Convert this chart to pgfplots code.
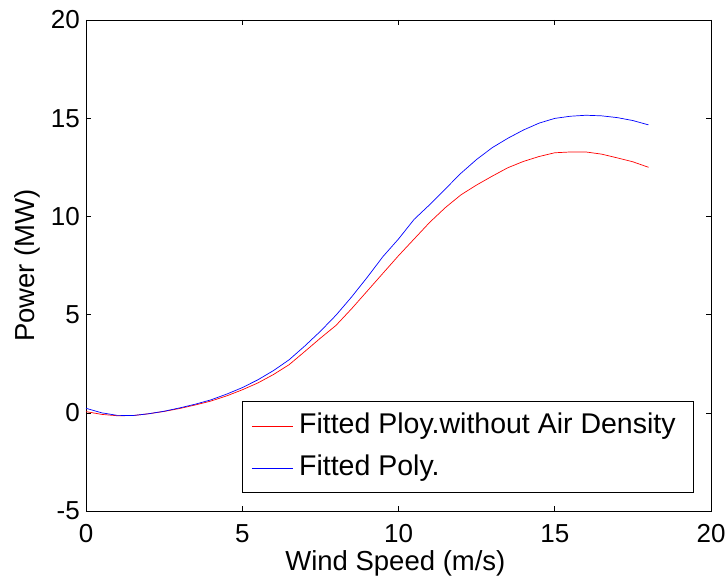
\documentclass[border=0pt]{standalone}
\usepackage{pgfplots}
\pgfplotsset{compat=1.18}
\usepackage{fontspec}
\setmainfont{Liberation Sans}
\begin{document}
\begin{tikzpicture}[x=1pt,y=1pt]
\useasboundingbox (-86,-67) rectangle (641,511);
\begin{axis}[
  at={(0,0)}, anchor=south west,
  scale only axis, width=625pt, height=491pt,
  xmin=0, xmax=20, ymin=-5, ymax=20,
  xtick={0,5,10,15,20}, ytick={-5,0,5,10,15,20},
  tick align=inside, tickpos=both,
  major tick length=5pt,
  tick style={black, line width=0.6pt},
  axis line style={black, line width=0.8pt},
  ticklabel style={font=\fontsize{26}{30}\selectfont},
  /pgf/number format/assume math mode=true,
  xticklabel style={anchor=base, inner sep=0pt, yshift=-31.3pt},
  yticklabel style={anchor=east, inner sep=0pt, xshift=-6pt},
  xlabel={Wind Speed (m/s)}, ylabel={Power (MW)},
  label style={font=\fontsize{27.5}{32}\selectfont},
  xlabel style={at={(axis description cs:0.495,-0.1216)}, anchor=base, inner sep=0pt},
  ylabel style={at={(axis description cs:-0.0816,0.5)}, anchor=base, inner sep=0pt},
  legend style={at={(rel axis cs:1,0)}, anchor=south east, xshift=-17pt, yshift=18pt,
    draw=black, line width=0.8pt, font=\fontsize{28.5}{32}\selectfont,
    inner xsep=9pt, inner ysep=11.5pt, row sep=16pt, column sep=6pt,
    nodes={inner sep=0pt, text height=20pt, text depth=6pt}},
  legend cell align=left,
  legend image code/.code={\draw[#1, line width=0.6pt] (0pt,0pt) -- (41pt,0pt);},
  clip=false,
]
\addplot[red, line width=0.7pt] coordinates {
(0,0.06) (0.5,-0.08) (1,-0.15) (1.5,-0.14) (2,-0.05) (2.5,0.07) (3,0.22) (3.5,0.40)
(4,0.60) (4.5,0.86) (5,1.17) (5.5,1.52) (6,1.95) (6.5,2.45) (7,3.12) (7.5,3.80)
(8,4.45) (8.5,5.30) (9,6.20) (9.5,7.10) (10,8.00) (10.5,8.85) (11,9.70) (11.5,10.45)
(12,11.10) (12.5,11.60) (13,12.05) (13.5,12.48) (14,12.80) (14.5,13.05) (15,13.24)
(15.5,13.28) (16,13.28) (16.5,13.17) (17,12.98) (17.5,12.78) (18,12.50)};
\addlegendentry{Fitted Ploy.without Air Density\hspace*{9pt}}
\addplot[blue, line width=0.7pt] coordinates {
(0,0.23) (0.5,0.00) (1,-0.13) (1.5,-0.14) (2,-0.05) (2.5,0.08) (3,0.25) (3.5,0.44)
(4,0.66) (4.5,0.95) (5,1.28) (5.5,1.68) (6,2.15) (6.5,2.70) (7,3.40) (7.5,4.15)
(8,4.97) (8.5,5.90) (9,6.90) (9.5,7.95) (10,8.85) (10.5,9.85) (11,10.60) (11.5,11.40)
(12,12.20) (12.5,12.90) (13,13.50) (13.5,13.98) (14,14.40) (14.5,14.75) (15,14.99)
(15.5,15.10) (16,15.15) (16.5,15.12) (17,15.03) (17.5,14.88) (18,14.66)};
\addlegendentry{Fitted Poly.}
\end{axis}
\end{tikzpicture}
\end{document}
